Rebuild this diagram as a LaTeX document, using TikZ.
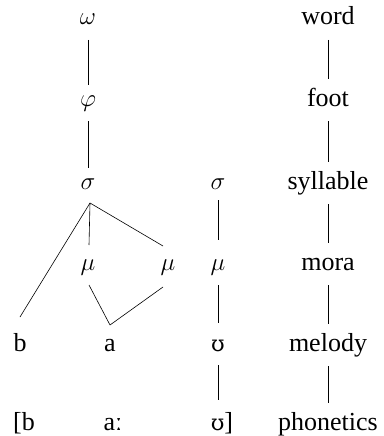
\documentclass[tikz,border=0pt]{standalone}
\usepackage{fontspec}
\setmainfont{Liberation Serif}
\newfontfamily\ipafont{DejaVu Serif}
\begin{document}
\begin{tikzpicture}[x=1pt,y=-1pt,
  lab/.style={anchor=base,inner sep=0pt,font=\fontsize{26}{30}\selectfont},
  conn/.style={line width=0.6pt}]
\useasboundingbox (0,0) rectangle (383,436);
% column 1
\node[lab] (w)  at (88,25)  {$\omega$};
\node[lab] (ph) at (88,106) {$\varphi$};
\node[lab] (s1) at (88,189) {$\sigma$};
\node[lab] (m1) at (88,270) {$\mu$};
\node[lab] (m2) at (168,270) {$\mu$};
\node[lab] (b)  at (20,351) {b};
\node[lab] (a)  at (110,351) {a};
% column 3
\node[lab] (s2) at (218,189) {$\sigma$};
\node[lab] (m3) at (218,270) {$\mu$};
\node[lab] (u)  at (218,351) {{\ipafont\fontsize{22}{26}\selectfont ʊ}};
% bottom row
\node[lab] (pb) at (24,430) {[b};
\node[lab] (pa) at (113,430) {aː};
\node[lab] (pu) at (222,430) {{\ipafont\fontsize{22}{26}\selectfont ʊ}]};
% labels
\node[lab] (lw) at (328,25)  {word};
\node[lab] (lf) at (328,106) {foot};
\node[lab] (ls) at (328,189) {syllable};
\node[lab] (lm) at (328,270) {mora};
\node[lab] (ld) at (328,351) {melody};
\node[lab] (lp) at (328,430) {phonetics};
% connectors
\coordinate (wS) at ([yshift=-15pt]w.base);
\coordinate (phN) at ([yshift=21pt]ph.base);
\coordinate (phS) at ([yshift=-15pt]ph.base);
\coordinate (s1N) at ([yshift=21pt]s1.base);
\coordinate (s1S) at ([yshift=-14pt]s1.base);
\coordinate (m1N) at ([yshift=25pt]m1.base);
\coordinate (m1S) at ([yshift=-15pt]m1.base);
\coordinate (m2N) at ([xshift=-5pt,yshift=24pt]m2.base);
\coordinate (m2S) at ([xshift=-5pt,yshift=-17pt]m2.base);
\coordinate (bN) at ([yshift=34pt]b.base);
\coordinate (aN) at ([yshift=26pt]a.base);
\coordinate (s2S) at ([yshift=-11pt]s2.base);
\coordinate (m3N) at ([yshift=30pt]m3.base);
\coordinate (m3S) at ([yshift=-15pt]m3.base);
\coordinate (uN) at ([yshift=28pt]u.base);
\coordinate (uS) at ([yshift=-14pt]u.base);
\coordinate (puN) at ([xshift=-4pt,yshift=30pt]pu.base);
\draw[conn] (wS) -- (phN);
\draw[conn] (phS) -- (s1N);
\draw[conn] ([xshift=2pt]s1S) -- (bN);
\draw[conn] ([xshift=2pt]s1S) -- ([xshift=1pt]m1N);
\draw[conn] ([xshift=2pt]s1S) -- (m2N);
\draw[conn] ([xshift=1pt]m1S) -- (aN);
\draw[conn] (m2S) -- (aN);
\draw[conn] (s2S) -- (m3N);
\draw[conn] (m3S) -- (uN);
\draw[conn] (uS) -- (puN);
\draw[conn] ([yshift=-15pt]lw.base) -- ([yshift=27pt]lf.base);
\draw[conn] ([yshift=-15pt]lf.base) -- ([yshift=27pt]ls.base);
\draw[conn] ([yshift=-15pt]ls.base) -- ([yshift=27pt]lm.base);
\draw[conn] ([yshift=-15pt]lm.base) -- ([yshift=27pt]ld.base);
\draw[conn] ([yshift=-15pt]ld.base) -- ([yshift=27pt]lp.base);
\end{tikzpicture}
\end{document}
